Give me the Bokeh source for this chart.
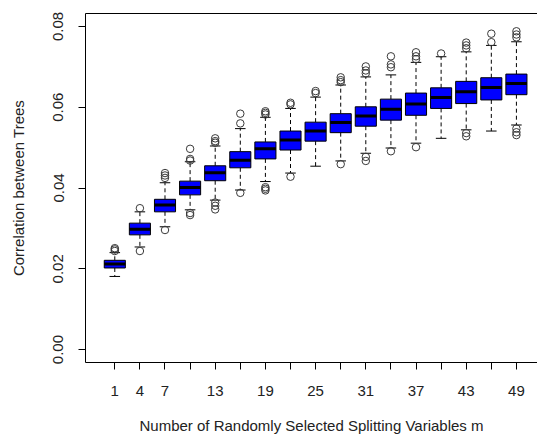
from bokeh.plotting import figure
from bokeh.models import Range1d, LinearAxis, FixedTicker, NumeralTickFormatter
from bokeh.embed import file_html
from bokeh.resources import INLINE

# ---- data ----
m_values = [1, 4, 7, 10, 13, 16, 19, 22, 25, 28, 31, 34, 37, 40, 43, 46, 49]
shown_labels = [1, 4, 7, 13, 19, 25, 31, 37, 43, 49]
med = [0.0212, 0.0298, 0.0358, 0.0401, 0.0438, 0.0469, 0.0497, 0.0519, 0.0541,
       0.0562, 0.0578, 0.0595, 0.0608, 0.0624, 0.0638, 0.0649, 0.0659]
q1 = [0.0202, 0.0284, 0.0341, 0.0383, 0.0418, 0.0450, 0.0472, 0.0494, 0.0516,
      0.0537, 0.0553, 0.0568, 0.0580, 0.0597, 0.0609, 0.0618, 0.0631]
q3 = [0.0221, 0.0313, 0.0372, 0.0417, 0.0455, 0.0490, 0.0514, 0.0541, 0.0563,
      0.0584, 0.0601, 0.0620, 0.0635, 0.0648, 0.0664, 0.0673, 0.0682]
whisk_lo = [0.0181, 0.0254, 0.0304, 0.0346, 0.0370, 0.0395, 0.0416, 0.0437, 0.0454,
            0.0467, 0.0486, 0.0499, 0.0511, 0.0523, 0.0544, 0.0541, 0.0556]
whisk_hi = [0.0240, 0.0341, 0.0413, 0.0465, 0.0504, 0.0547, 0.0575, 0.0597, 0.0625,
            0.0655, 0.0675, 0.0680, 0.0711, 0.0725, 0.0737, 0.0753, 0.0762]
outliers_hi = [[0.0244, 0.0248, 0.0251], [0.0350], [0.0425, 0.0431, 0.0437],
               [0.0468, 0.0472, 0.0497], [0.0512, 0.0516, 0.0523], [0.0560, 0.0584],
               [0.0582, 0.0586, 0.0590], [0.0607, 0.0611], [0.0635, 0.0640],
               [0.0662, 0.0667, 0.0674], [0.0684, 0.0691, 0.0701],
               [0.0699, 0.0706, 0.0726], [0.0719, 0.0726, 0.0736], [0.0733],
               [0.0746, 0.0753, 0.0760], [0.0761, 0.0782], [0.0773, 0.0780, 0.0788]]
outliers_lo = [[], [0.0244], [0.0296], [0.0338, 0.0333], [0.0364, 0.0356, 0.0347],
               [0.0388], [0.0402, 0.0398, 0.0394], [0.0428], [], [0.0459],
               [0.0477, 0.0467], [0.0491], [0.0501], [], [0.0536, 0.0528], [],
               [0.0547, 0.0538, 0.0531]]
y_ticks = [0.0, 0.02, 0.04, 0.06, 0.08]

# ---- derived positions ----
pos = list(range(1, len(m_values) + 1))
box_w = 0.84
cap_w = 0.42

FONT = "Liberation Sans"
TXT = "#222222"
FS = "15px"

p = figure(width=537, height=436, output_backend="svg", toolbar_location=None,
           x_range=Range1d(-0.167, 17.84), y_range=Range1d(-0.0032, 0.0832),
           x_axis_location=None, y_axis_location=None,
           min_border_left=85, min_border_right=0, min_border_top=13,
           min_border_bottom=73)
p.outline_line_color = None
p.xgrid.visible = False
p.ygrid.visible = False
p.background_fill_color = "white"
p.border_fill_color = "white"

# whiskers
p.segment(x0=pos, y0=q3, x1=pos, y1=whisk_hi, line_color="black",
          line_width=1, line_dash="4 3")
p.segment(x0=pos, y0=q1, x1=pos, y1=whisk_lo, line_color="black",
          line_width=1, line_dash="4 3")
# caps
p.segment(x0=[x - cap_w / 2 for x in pos], y0=whisk_hi,
          x1=[x + cap_w / 2 for x in pos], y1=whisk_hi, line_color="black", line_width=1)
p.segment(x0=[x - cap_w / 2 for x in pos], y0=whisk_lo,
          x1=[x + cap_w / 2 for x in pos], y1=whisk_lo, line_color="black", line_width=1)
# boxes
p.vbar(x=pos, width=box_w, bottom=q1, top=q3, fill_color="#0000FF",
       line_color="black", line_width=1)
# medians
p.segment(x0=[x - box_w / 2 for x in pos], y0=med,
          x1=[x + box_w / 2 for x in pos], y1=med, line_color="black",
          line_width=3, line_cap="butt")
# outliers
ox, oy = [], []
for x, hi_list, lo_list in zip(pos, outliers_hi, outliers_lo):
    for v in hi_list + lo_list:
        ox.append(x)
        oy.append(v)
p.scatter(ox, oy, marker="circle", size=7.5, fill_color=None,
          line_color="#3a3a3a", line_width=1)

# axes
xaxis = LinearAxis(ticker=FixedTicker(ticks=pos))
xaxis.major_label_overrides = {x: (str(m) if m in shown_labels else "")
                               for x, m in zip(pos, m_values)}
xaxis.axis_label = "Number of Randomly Selected Splitting Variables m"
xaxis.major_tick_out = 7
xaxis.major_tick_in = 0
xaxis.minor_tick_line_color = None
xaxis.major_label_standoff = 16
xaxis.axis_label_standoff = 18
p.add_layout(xaxis, "below")

yaxis = LinearAxis(ticker=FixedTicker(ticks=y_ticks),
                   formatter=NumeralTickFormatter(format="0.00"))
yaxis.axis_label = "Correlation between Trees"
yaxis.major_label_orientation = "vertical"
yaxis.major_tick_out = 7
yaxis.major_tick_in = 0
yaxis.minor_tick_line_color = None
yaxis.major_label_standoff = 15
yaxis.axis_label_standoff = 24
p.add_layout(yaxis, "left")

top = LinearAxis(ticker=FixedTicker(ticks=[]))
top.major_tick_out = 0
top.major_tick_in = 0
top.minor_tick_line_color = None
top.major_label_standoff = 0
p.add_layout(top, "above")

for ax in (xaxis, yaxis, top):
    ax.axis_line_color = "black"
    ax.axis_line_width = 1
    ax.major_tick_line_color = "black"
    ax.major_label_text_font = FONT
    ax.major_label_text_font_size = FS
    ax.major_label_text_color = TXT
    ax.axis_label_text_font = FONT
    ax.axis_label_text_font_size = FS
    ax.axis_label_text_color = TXT
    ax.axis_label_text_font_style = "normal"

open("out.html", "w").write(file_html(p, INLINE))
